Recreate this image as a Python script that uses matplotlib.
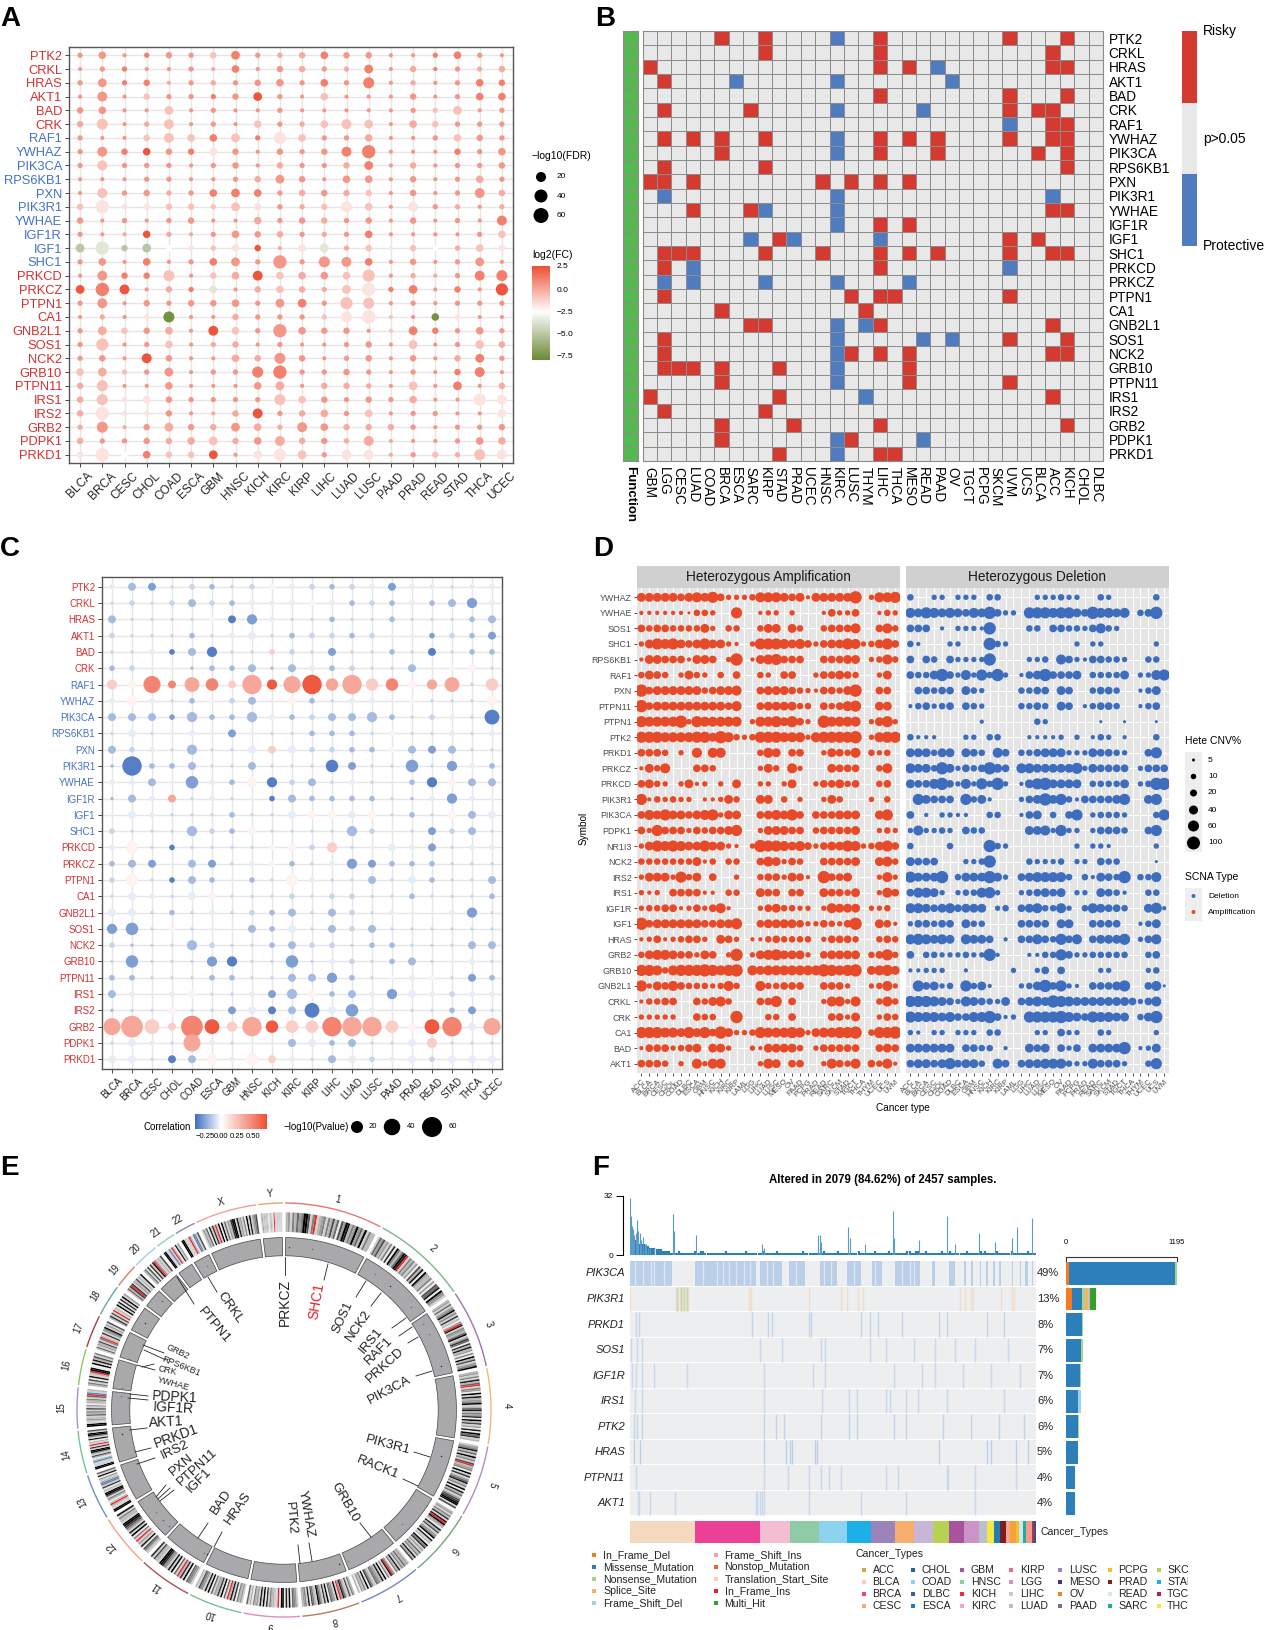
import numpy as np
import matplotlib
matplotlib.use("Agg")
import matplotlib.pyplot as plt
from matplotlib.colors import LinearSegmentedColormap, ListedColormap
from matplotlib.patches import Rectangle
from matplotlib.collections import PolyCollection
from matplotlib.transforms import ScaledTranslation

plt.rcParams['font.family'] = ['Liberation Sans', 'DejaVu Sans']

W, H = 1266, 1630

# genes / cancers
genes = ["PTK2","CRKL","HRAS","AKT1","BAD","CRK","RAF1","YWHAZ","PIK3CA","RPS6KB1","PXN","PIK3R1","YWHAE","IGF1R","IGF1",
         "SHC1","PRKCD","PRKCZ","PTPN1","CA1","GNB2L1","SOS1","NCK2","GRB10","PTPN11","IRS1","IRS2","GRB2","PDPK1","PRKD1"]
blue_genes = ["RAF1","YWHAZ","PIK3CA","RPS6KB1","PXN","PIK3R1","YWHAE","IGF1R","IGF1","SHC1"]
cancers = ["BLCA","BRCA","CESC","CHOL","COAD","ESCA","GBM","HNSC","KICH","KIRC","KIRP","LIHC","LUAD","LUSC","PAAD","PRAD","READ","STAD","THCA","UCEC"]

# panel A, one digit per cancer: size class of -log10(FDR), level of log2(FC)
a_fdr = ["24123 23522 34331 12421","12211 21413 32251 31223","25231 22234 24271 21243","16132 22352 14111 31244",
 "34115 12112 11111 22512","37126 12142 24651 43222","21136 44528 42241 12432","26343 34313 23691 11324",
 "26222 12313 22351 31223","11122 11235 31441 31242","16232 24542 33331 31263","39233 32542 23741 62212",
 "31212 31142 33231 31216","21142 12433 22241 11124","59353 22431 45231 32243","24141 24529 27641 31251",
 "16337 13464 44481 21267","59613 24134 32592 51318","26132 33425 52871 21222","12127 11322 22791 14211",
 "25334 16429 43311 53242","28124 12312 11231 51253","23163 11437 31231 31352","45225 12279 22321 21361",
 "37114 11145 13321 51513","37243 22227 43232 41186","39223 11362 34241 22115","27135 33542 64333 21223",
 "32233 45346 33261 11244","39343 35158 52661 23276"]
a_fc = ["77787 75876 68777 78877","77877 76877 67687 68766","77886 76777 78787 67788","77757 78797 75777 77788",
 "77775 77777 77777 75577","65765 77757 65557 65777","77755 58584 57767 77577","77897 84777 77887 77877",
 "75777 77776 77687 67777","77777 77767 77777 77767","75776 78887 67657 77776","54445 55547 65457 47676",
 "77777 77767 76777 77778","77696 67776 76787 77775","12113 45496 42654 53654","77787 78777 77787 77777",
 "77885 75695 67557 66788","98976 82765 66548 87879","77777 77777 87557 77777","76740 77677 75445 70477",
 "76576 79577 77775 88777","75775 76677 77777 57756","77797 77667 77777 77687","56577 77788 77777 77887",
 "65777 77776 76667 57876","65447 77775 57777 67744","64447 76697 66757 77774","67676 76766 77666 77777",
 "67776 65676 67666 77776","44385 59744 57446 75654"]
a_fc_levels = [-7.5,-5,-3.6,-2.5,-1.7,-0.7,-0.1,0.5,1.2,2.4]

# panel B
b_cancers = ["GBM","LGG","CESC","LUAD","COAD","BRCA","ESCA","SARC","KIRP","STAD","PRAD","UCEC","HNSC","KIRC","LUSC","THYM",
             "LIHC","THCA","MESO","READ","PAAD","OV","TGCT","PCPG","SKCM","UVM","UCS","BLCA","ACC","KICH","CHOL","DLBC"]
b_genes = genes
b_risky = [[5,8,16,25,29],[8,16,28],[0,16,18,28,29],[1],[16,25,29],[1,7,25,27,28],[28,29],[1,3,5,8,16,18,20,25,28,29],
           [5,16,20,27,29],[1,8,29],[0,1,3,12,14,16,18],[],[3,7,28,29],[16,18],[9,25,27],[1,2,3,8,12,16,18,20,25,28,29],
           [1,16],[],[1,14,16,17,25],[5,15],[7,8,16,28],[1,25,29],[1,14,16,18,28,29],[1,2,3,5,9,18],[5,18,25],[0,9,28],
           [1,8],[5,10,16,29],[5,14],[9,16,17]]
b_protective = [[13],[],[20],[6,13,21],[],[13,19],[25],[13],[13],[],[],[1,13,28],[8,13],[13],[7,10,16],[],[3,25],
                [1,3,8,13,18],[],[],[13,15],[13,19,21],[13],[13],[13],[15],[],[],[13,19],[13]]

# panel C
c_size = ["23312 21222 22223 22122","12123 22222 22222 22342","31111 23421 12112 11123","21112 12312 22221 12223",
 "11223 41122 13112 13122","22111 22313 22211 31231","43736 53847 85855 34615","24212 12313 21221 21114",
 "33324 22422 23342 12216","13112 13111 22212 11212","32214 11333 22222 33311","18223 11311 15311 51422",
 "22315 22442 31211 24333","13231 21123 22221 12421","13211 12113 33331 21333","21114 22311 11421 13231",
 "25121 11123 24113 23122","23313 31222 12432 22111","25123 21215 21131 32113","13213 31112 12211 21112",
 "33121 21223 13212 11241","45121 11323 13231 11111","21114 21123 22122 11133","15111 44115 12212 31121",
 "22111 22113 34211 22132","32123 11234 32324 32222","11131 13333 63521 11231","79639 64855 58885 36837",
 "13217 21113 32311 34111","33133 42532 13322 32333"]
c_corr = ["42133 23354 32341 44344","33332 32444 54232 42214","23333 50143 32332 33322","33332 34432 33234 41321",
 "33402 03363 31332 30322","23442 22222 42333 24553","65887 86797 97768 57736","45432 53245 23444 53335",
 "22212 22242 32222 33430","34344 41433 22235 33434","23432 33464 33225 21233","20222 33233 30133 13142",
 "44241 42503 23434 20522","22473 43402 22223 24144","44433 32334 55453 23524","33332 32533 33234 31323",
 "45303 33355 36344 41344","22142 13452 34112 22333","35302 24235 43323 42332","34434 53333 33333 23332",
 "44323 43322 32334 44413","11353 44224 32323 33333","32332 33322 33322 33322","31333 10331 34332 23443",
 "22333 22332 21235 45312","24445 33412 52241 44344","23353 31402 04144 33213","77668 96796 68776 59847",
 "34437 43442 42233 46333","44302 54564 32434 43444"]
c_corr_levels = [-0.36,-0.27,-0.19,-0.12,-0.05,0.05,0.2,0.36,0.5,0.68]

# panel D
d_genes = ["YWHAZ","YWHAE","SOS1","SHC1","RPS6KB1","RAF1","PXN","PTPN11","PTPN1","PTK2","PRKD1","PRKCZ","PRKCD","PIK3R1","PIK3CA",
           "PDPK1","NR1I3","NCK2","IRS2","IRS1","IGF1R","IGF1","HRAS","GRB2","GRB10","GNB2L1","CRKL","CRK","CA1","BAD","AKT1"]
d_cancers = ["ACC","BLCA","BRCA","CESC","CHOL","COAD","DLBC","ESCA","GBM","HNSC","KICH","KIRC","KIRP","LAML","LGG","LIHC","LUAD",
             "LUSC","MESO","OV","PAAD","PCPG","PRAD","READ","SARC","SKCM","STAD","TGCT","THCA","THYM","UCEC","UCS","UVM"]
d_amp = ["66666 56768 53334 77765 62666 66903 778","22222 21443 00800 23303 00025 33500 243","54554 44463 04400 46606 40045 55700 574",
 "36878 65686 63203 88876 75356 68734 685","26655 52665 03902 67855 50055 56603 474","46540 36430 40500 43055 00355 65400 360",
 "95666 66645 66700 56665 43255 46900 550","95666 66666 65700 56666 44054 57800 660","87777 93877 77703 77868 53097 77703 683",
 "88877 77886 97434 88877 73788 88903 788","55540 30707 70000 47605 50036 54704 340","26470 00554 00000 36407 30006 55500 470",
 "56430 36230 30600 33036 00355 64500 450","82434 33022 36400 66040 30036 40003 040","57686 65678 36600 56768 50555 66600 680",
 "53855 53545 56800 36665 50455 55600 343","36878 76686 63203 98876 75356 68734 685","44444 44624 04400 57635 40055 55600 674",
 "36663 84605 00300 45536 52095 56000 373","32305 55522 04400 65505 50065 54600 375","34455 23535 72000 35644 33037 66603 340",
 "95666 66655 66800 56666 53354 35900 652","23523 45530 65302 24544 44035 55400 454","46776 55365 03903 67866 63056 66604 584",
 "88747 88898 78907 67777 77798 78906 786","83657 54443 47400 74455 50055 53003 473","24455 00546 74000 55805 00037 73700 474",
 "33333 00544 00900 04405 00005 53600 354","88877 68685 96334 87778 73677 88904 889","25553 45606 63003 26666 40355 55500 565",
 "55540 30737 70000 37605 50037 54705 472"]
d_del = ["40033 03330 44000 03334 33004 30000 040","76876 76576 95330 88878 86597 76704 590","55502 03332 90000 44055 44357 43000 000",
 "42000 33000 94300 00000 03033 00000 030","50540 53333 90000 33407 53255 44300 440","54469 53738 49302 56955 56044 44603 378",
 "05545 50643 00004 45506 50045 54002 460","24534 50543 00004 45406 50245 54002 450","00000 00002 00000 04300 00001 00100 010",
 "42220 00330 44000 22223 03024 30200 040","66646 60654 07504 45666 33365 54300 580","76649 63545 96507 76666 68365 55503 555",
 "65579 53738 49302 68966 66044 44603 499","08655 50846 20003 56968 42555 56800 680","50203 32200 44002 56040 58034 44300 048",
 "37334 30544 00000 66738 33035 55400 580","40000 40000 94300 00000 03033 20000 030","65550 00334 90000 43334 03305 44000 010",
 "86669 04666 96305 67777 40426 54904 470","57763 03447 83003 45656 03306 54200 440","77656 75666 03405 67447 30476 55400 682",
 "35545 50644 00005 55506 60055 55002 460","78767 60766 50205 57548 57056 66803 570","50443 33433 92000 22448 53344 44400 450",
 "22333 00200 00030 03505 00003 30000 340","08563 40846 20003 46958 32055 56800 571","88876 53765 43605 67698 76666 66653 570",
 "87776 75577 95230 88889 76587 76604 690","32033 03330 44000 03305 33004 30000 030","66666 60554 40200 65605 35066 66902 360",
 "56656 85664 07505 66777 43375 55300 480"]

# panel E
chrom_names = ["1","2","3","4","5","6","7","8","9","10","11","12","13","14","15","16","17","18","19","20","21","22","X","Y"]
chrom_len = [249,243,198,191,181,171,159,146,141,135,135,133,115,107,102,90,81,78,59,63,48,51,155,59]
chrom_col = ["#E8786E","#7FB58A","#A36FB0","#F5B877","#B38CC8","#6FA67A","#6C86D0","#B77C5B","#E08CC0","#77C28F","#B05050","#F4A482",
             "#6D8FCB","#6FC5A0","#A98FD0","#8CC860","#A84040","#5FA9A0","#E07A70","#9FD0E8","#8FD0B0","#9A80C0","#F0A0A0","#E0A870"]
# cytoband shades per chromosome: 0 white .. 9 black, r red, b blue
chrom_bands = ["2314 2534 9961 4r12 3414 2625 0639 8243 9352 9142 2",
 "1536 2314 0709 4259 8r14 2413 0628 0932 2403 0658 09431",
 "2315 1349 2417 1203 r814 3259 1375 0728 2304 0926 1349",
 "2314 1825 r143 0918 2349 1258 2437 0926 1308 0957 12",
 "1348 2519 2416 r234 0917 1358 2419 0825 1367 9916",
 "2314 2718 r932 0826 1349 0812 0947 1315 2418 26",
 "1325 2418 2403 r814 0918 2345 1247 0914 2302",
 "2416 1258 3r19 1345 0917 1359 1246 0814 32",
 "1345 0918 0990 r112 2417 0918 1324 0215",
 "1324 0718 2r15 0917 2315 0918 1346 12",
 "1345 0917 2r15 0918 1347 9912 2617",
 "1246 0813 1r14 0918 1357 9912 2418",
 "9911 2r20 2416 9912 0714 b213 0815",
 "9911 1b20 2613 9917 1r12 0814 9916",
 "9911 3215 2416 1302 2415 rb12",
 "2416 0812 r990 0918 2614",
 "1513 2614 r217 1349 1316",
 "2716 1r12 0918 0719 13",
 "1527 r713 2612 18",
 "2416 0718 r312 16",
 "9911 b1r2 0813",
 "9911 1r20 b416",
 "1325 0817 2r19 0915 1327 9918 2314 0918 1346",
 "1312 1210 1210 r111 1111"]
gene_dots = [(0,.35,"#C05050"),(0,.05,"#555555"),(1,.2,"#5577AA"),(1,.45,"#333333"),(1,.85,"#5577AA"),(2,.1,"#5577AA"),(2,.3,"#5577AA"),(2,.85,"#333333"),
             (4,.3,"#333333"),(5,.7,"#5577AA"),(6,.95,"#C05050"),(7,.1,"#333333"),(10,.1,"#5577AA"),(10,.02,"#333333"),(11,.1,"#555588"),(11,.3,"#555588"),(11,.55,"#C05050"),
             (13,.8,"#333333"),(14,.9,"#5577AA"),(15,.05,"#C05050"),(16,.05,"#C05050"),(17,.5,"#333333"),(18,.7,"#555588"),(21,.6,"#5577AA")]

# panel F
f_title = "Altered in 2079 (84.62%) of 2457 samples."
f_genes = ["PIK3CA","PIK3R1","PRKD1","SOS1","IGF1R","IRS1","PTK2","HRAS","PTPN11","AKT1"]
f_pct = ["49%","13%","8%","7%","7%","6%","6%","5%","4%","4%"]
f_types = ["In_Frame_Del","Missense_Mutation","Nonsense_Mutation","Splice_Site","Frame_Shift_Del",
           "Frame_Shift_Ins","Nonstop_Mutation","Translation_Start_Site","In_Frame_Ins","Multi_Hit"]
f_type_col = ["#F47B20","#2C7FB8","#A6D48A","#F7B26A","#9FD3E3","#F6A0A8","#F26522","#FBD0B0","#ED1C24","#33A02C"]
# counts per gene in order of f_types
f_counts = [[28,1144,23,0,0,0,0,0,0,0],[65,102,37,28,14,14,0,0,0,65],[0,172,14,0,0,0,0,0,0,0],[0,158,28,0,0,0,0,0,0,0],[0,153,9,0,0,0,0,0,0,0],
            [0,134,0,0,23,0,0,0,0,0],[0,125,19,0,0,0,0,0,0,0],[0,130,0,0,0,0,0,0,0,0],[0,97,0,0,0,0,0,0,0,0],[0,97,0,0,0,0,0,0,0,0]]
# altered samples, in % along the sample axis
pik3ca_runs = [(0,10.3),(16.1,31),(32,37.4),(39.2,43.2),(46.7,51),(53.5,57),(59.6,62),(65.3,71.4),(74.5,75),(78.6,80),(82.3,82.7),
               (84,84.4),(86.2,86.5),(87.8,88.3),(89.4,90),(91,91.5),(94,94.4),(96,96.4),(97.2,98),(99,99.3)]
pik3ca_gaps = [1.2,3.1,5.2,5.9,8.4,18,21.5,23,24.4,26,28,29.6,33.8,35.1,41,47.9,49.6,55.2,60.3,67,68.9,70]
f_other = [[0,11.4,11.9,12.3,12.7,13,13.4,13.9,14.4,29.3,29.7,44,52,53.5,56.2,57.5,81.2,82.5,84,84.4,91.5,94,94.7],
           [1.5,2.3,30,34,35,44,44.5,57,59,61,67,76,78,88,92],
           [0.3,1.7,3,32,37.5,47,48,59,63,70,75,80,85,93],
           [0.5,1.5,3,6,14,33,45,48,65,72,75,82,89,96],
           [1.2,3,33,47.3,54,56,63,64,68,71,78,92],
           [1,1.8,3,33,36,38,47,54,56,65,68,77,84,91,97],
           [1,2.5,33,40,38.5,39.5,45.5,46,76,88,89,95,98],
           [1.5,33,39,44,47,49,52,63,66,78,78.3,85,95],
           [1.9,2.3,5,11,31,31.3,32,32.5,33,44,57,68,85]]
f_mid_col = ["#BBD0E8","#F3DCC8","#C3D5EA","#C8D9EC","#C8D9EC","#C8D9EC","#C3D5EA","#BBD0E8","#C8D9EC","#C8D9EC"]
f_annot_n = [16.1,15.8,7.4,7.3,6.8,5.9,5.8,4.8,4.7,3.9,3.8,3.5,2.1,1.6,1.5,1.4,1.2,1.3,0.9,0.8,0.9,1.3,0.6,0.5]
f_annot_col = ["#F5D9BF","#EC3F96","#F3BED1","#8FCBA4","#8DD3EE","#1BB0E8","#9B83BC","#F7AE6C","#C8B6D9","#B7D24F","#A9529E","#CC94C4",
               "#B9BFCF","#F5E642","#1F7FB4","#7D1F21","#F9A58B","#F2A33A","#F2C22E","#CDE7F0","#1FAE9B","#F59A8E","#A23B4D","#3F4B8F"]
f_top_base = ("99887 66655 44433 32222 11112 11111 11211 22111 11111 11211 11111 11211 11111 21111 11211 11111 11111 21111 11111 21111 "
              "11211 11111 11211 11111 21111 11211 11111 12211 22111 21111 11121 11211 11111 21111 11212 11111 21111 11211 11111 21111")
f_top_peak_x = [0.1,0.3,0.5,0.8,1,1.4,1.7,2,2.4,2.8,3.2,3.6,4,4.5,5,6,10.7,10.9,16.3,32.6,33,46.4,46.7,47.1,53.8,54.1,58,64.9,65,71.2,78.2,80,86,90,94,95.3,99]
f_top_peak_y = [31,21,16,14,11,12,19,13,12,8,10,6,6,4,4,3,22,13,11,6,4,11,11,7,15,9,6,24,9,8,21,6,12,7,9,15,20]
cancer_legend = ["ACC","BLCA","BRCA","CESC","CHOL","COAD","DLBC","ESCA","GBM","HNSC","KICH","KIRC","KIRP","LGG","LIHC","LUAD",
                 "LUSC","MESO","OV","PAAD","PCPG","PRAD","READ","SARC","SKCM","STAD","TGCT","THCA"]
cancer_legend_col = ["#C8B040","#F5C6D5","#EC3F96","#F7AE6C","#2F5F99","#8DD3EE","#3F5FA8","#1F7FB4","#A9529E","#8FCBA4","#ED2B3A","#F7A8B0",
                     "#F26B7E","#CC94C4","#C3C9DA","#C8B6D9","#9B83BC","#4B2D8F","#F58220","#6A6FA0","#F2C22E","#7D1F21","#CDE7F0","#1FAE9B",
                     "#B7D24F","#1BB0E8","#B3203C","#F5E642"]

RED, BLUE = "#D62F2F", "#4472C4"


def digits(rows):
    return np.array([[int(c) for c in r.replace(" ", "")] for r in rows])


def px_area(d):
    # diameter in pixels to scatter area
    return (np.asarray(d, dtype=float) * 0.72) ** 2


def add_ax(x0, y0, x1, y1):
    return fig.add_axes([x0 / W, 1 - y1 / H, (x1 - x0) / W, (y1 - y0) / H])


fig = plt.figure(figsize=(W / 100, H / 100), dpi=100)

ov = fig.add_axes([0, 0, 1, 1], zorder=5)
ov.set_xlim(0, W)
ov.set_ylim(H, 0)
ov.axis("off")
ov.patch.set_alpha(0)

for s, x, y in [("A", 0, 26), ("B", 595, 26), ("C", 0, 556), ("D", 593, 556), ("E", 0, 1175), ("F", 592, 1175)]:
    ov.text(x, y, s, fontsize=20, fontweight="bold", va="baseline", color="black")


def dot_panel(box, sizes, colors, diam_fn, cmap, vmin, vmax, fs, shift):
    ax = add_ax(*box)
    xx, yy = np.meshgrid(np.arange(20), np.arange(30))
    ax.set_xlim(-0.5, 19.5)
    ax.set_ylim(29.6, -0.6)
    ax.set_axisbelow(True)
    ax.grid(True, color="#E6E6E6", lw=1)
    ax.scatter(xx.ravel(), yy.ravel(), s=px_area(diam_fn(sizes.ravel())), c=colors.ravel(),
               cmap=cmap, vmin=vmin, vmax=vmax, linewidths=0, zorder=3)
    ax.set_xticks(range(20))
    ax.set_xticklabels(cancers, rotation=45, ha="center", va="top", fontsize=fs[1], color="#222222")
    off = ScaledTranslation(shift / 100, 0, fig.dpi_scale_trans)
    for lab in ax.get_xticklabels():
        lab.set_transform(lab.get_transform() + off)
    ax.set_yticks(range(30))
    ax.set_yticklabels(genes, fontsize=fs[0])
    for lab in ax.get_yticklabels():
        lab.set_color(BLUE if lab.get_text() in blue_genes else RED)
    ax.tick_params(length=3, width=0.7, color="#444444", pad=2)
    for sp in ax.spines.values():
        sp.set_color("#555555")
        sp.set_linewidth(1)
    return ax


# --- A
cmap_a = LinearSegmentedColormap.from_list("fc", [(0, "#6B8A35"), (5.4 / 10.5, "#FFFFFF"), (1, "#EE4F35")])
fc_vals = np.array(a_fc_levels)[digits(a_fc)]
dot_panel((69, 47, 513, 463), digits(a_fdr), fc_vals, lambda d: 3.0 + 1.15 * d, cmap_a, -7.9, 2.6, (9.3, 8.6), 5)

ov.text(532, 156, "\u2212log10(FDR)", fontsize=7.5, va="center")
ov.scatter([541, 541, 541], [177, 196, 215.5], s=px_area([10, 13, 15]), c="black", linewidths=0)
for y, t in zip([177, 196, 215.5], ["20", "40", "60"]):
    ov.text(557, y, t, fontsize=6, va="center")
ov.text(532, 255, "log2(FC)", fontsize=7.5, va="center")
cb = add_ax(532, 266, 550, 360)
cb.imshow(np.linspace(1, 0, 256)[:, None], cmap=cmap_a, aspect="auto")
cb.axis("off")
for y, t in zip([267, 290, 312, 334, 357], ["2.5", "0.0", "\u22122.5", "\u22125.0", "\u22127.5"]):
    ov.text(557, y, t, fontsize=6, va="center")

# --- B
bm = np.zeros((len(b_genes), len(b_cancers)))
for i, (r, p) in enumerate(zip(b_risky, b_protective)):
    bm[i, r] = 1
    bm[i, p] = -1
axb = add_ax(642.5, 31, 1103, 461)
axb.pcolormesh(bm, cmap=ListedColormap(["#4F7BBF", "#E8E8E8", "#D43A2F"]), vmin=-1, vmax=1, edgecolors="#8C8C8C", linewidth=0.55)
axb.set_ylim(len(b_genes), 0)
axb.set_xticks(np.arange(32) + 0.5)
axb.set_xticklabels(b_cancers, rotation=-90, fontsize=9.8, ha="center", va="top")
axb.set_yticks(np.arange(30) + 0.5)
axb.set_yticklabels(b_genes, fontsize=9.8)
axb.yaxis.tick_right()
axb.tick_params(length=0, pad=4)
for sp in axb.spines.values():
    sp.set_color("#8C8C8C")
axf = add_ax(623, 31, 638, 461)
axf.pcolormesh(np.ones((30, 1)), cmap=ListedColormap(["#56B851"]), edgecolors="#8C8C8C", linewidth=0.4)
axf.set_xticks([])
axf.set_yticks([])
for sp in axf.spines.values():
    sp.set_color("#8C8C8C")
ov.text(630, 466, "Function", rotation=-90, fontsize=9.5, fontweight="bold", ha="center", va="top")
ov.add_patch(Rectangle((1182, 31), 15, 72, color="#D43A2F", lw=0))
ov.add_patch(Rectangle((1182, 103), 15, 71, color="#E8E8E8", lw=0))
ov.add_patch(Rectangle((1182, 174), 15, 72, color="#4F7BBF", lw=0))
for y, t in [(31.5, "Risky"), (139, "p>0.05"), (246, "Protective")]:
    ov.text(1203, y, t, fontsize=10, va="center")

# --- C
cmap_c = LinearSegmentedColormap.from_list("corr", [(0, "#3F6DBF"), (0.363, "#FFFFFF"), (1, "#EE4F35")])
corr_vals = np.array(c_corr_levels)[digits(c_corr)]
dot_panel((102, 577, 502, 1069), digits(c_size), corr_vals, lambda d: 1.0 + 2.3 * d, cmap_c, -0.41, 0.72, (7, 7), 4)
ov.text(191, 1127, "Correlation", fontsize=7, ha="right", va="center")
cb2 = add_ax(195, 1114, 267, 1129)
cb2.imshow(np.linspace(0, 1, 256)[None, :], cmap=cmap_c, aspect="auto")
cb2.axis("off")
for x, t in zip([205, 221, 237, 253], ["\u22120.25", "0.00", "0.25", "0.50"]):
    ov.text(x, 1136, t, fontsize=5.5, ha="center", va="center")
ov.text(284, 1127, "\u2212log10(Pvalue)", fontsize=7, va="center")
ov.scatter([357, 392, 432], [1127, 1127, 1127], s=px_area([12, 16.5, 20]), c="black", linewidths=0)
for x, t in zip([373, 411, 453], ["20", "40", "60"]):
    ov.text(x, 1127, t, fontsize=5.5, ha="center", va="center")


# --- D
def d_panel(box, mat, col, left, title):
    ax = add_ax(*box)
    ax.set_facecolor("#E5E5E5")
    ax.set_axisbelow(True)
    ax.grid(True, color="white", lw=0.8)
    yy, xx = np.nonzero(mat)
    ax.scatter(xx, yy, s=px_area(2 + 1.15 * mat[yy, xx]), c=col, linewidths=0, zorder=3)
    ax.set_xlim(-0.6, 32.6)
    ax.set_ylim(30.6, -0.6)
    ax.set_xticks(range(33))
    ax.set_xticklabels(d_cancers, rotation=45, ha="right", rotation_mode="anchor", fontsize=5.6, color="#4D4D4D")
    ax.set_yticks(range(31))
    if left:
        ax.set_yticklabels(d_genes, fontsize=6.4, color="#4D4D4D")
    else:
        ax.tick_params(axis="y", length=0, labelleft=False)
    ax.tick_params(length=2, width=0.6, color="#333333", pad=1.5)
    if not left:
        ax.tick_params(axis="y", length=0)
    for sp in ax.spines.values():
        sp.set_visible(False)
    ov.add_patch(Rectangle((box[0], 566), box[2] - box[0], 22, color="#D0D0D0", lw=0))
    ov.text((box[0] + box[2]) / 2, 577.5, title, fontsize=9.8, ha="center", va="center", color="#1A1A1A")


d_panel((636.6, 588, 900, 1073), digits(d_amp), "#E64A28", True, "Heterozygous Amplification")
d_panel((905.6, 588, 1169, 1073), digits(d_del), "#3E6DBE", False, "Heterozygous Deletion")
ov.text(584, 828, "Symbol", fontsize=7.2, rotation=90, ha="center", va="center")
ov.text(903, 1108, "Cancer type", fontsize=7.2, ha="center", va="center")
ov.text(1185, 741, "Hete CNV%", fontsize=7.5, va="center")
leg_y = [760, 776.5, 793, 810, 826, 843]
ov.add_patch(Rectangle((1185, 752), 17, 100, color="#EEEEEE", lw=0))
ov.scatter([1193.5] * 6, leg_y, s=px_area([3, 5.5, 7, 9, 11, 13]), c="black", linewidths=0)
for y, t in zip(leg_y, ["5", "10", "20", "40", "60", "100"]):
    ov.text(1208, y, t, fontsize=6, va="center")
ov.text(1185, 877.5, "SCNA Type", fontsize=7.5, va="center")
ov.add_patch(Rectangle((1185, 888), 17, 33, color="#EEEEEE", lw=0))
ov.scatter([1193.5, 1193.5], [896, 912], s=px_area([4, 4]), c=["#3E6DBE", "#E64A28"], linewidths=0)
ov.text(1208, 896, "Deletion", fontsize=6, va="center")
ov.text(1208, 912, "Amplification", fontsize=6, va="center")

# --- E
R = 207
CX, CY = 284, 1410
axe = add_ax(CX - R * 1.2, CY - R * 1.2, CX + R * 1.2, CY + R * 1.2)
axe.set_xlim(-1.2, 1.2)
axe.set_ylim(-1.2, 1.2)
axe.axis("off")
gap = 1.0
span = (360 - gap * len(chrom_len)) / sum(chrom_len)


def ring(a0, a1, r0, r1):
    t = np.radians(np.linspace(a0, a1, max(2, int(abs(a1 - a0)) + 2)))
    return np.r_[np.c_[r1 * np.cos(t), r1 * np.sin(t)], np.c_[r0 * np.cos(t[::-1]), r0 * np.sin(t[::-1])]]


shade = {str(i): str(round(0.92 - 0.92 * i / 9, 3)) for i in range(10)}
shade["r"] = "#EE2A2A"
shade["b"] = "#4F86C6"
start = 90 - gap / 2
starts = []
band_polys, band_cols, track_polys = [], [], []
for i, n in enumerate(chrom_len):
    a0 = start
    a1 = a0 - n * span
    starts.append((a0, a1))
    bands = chrom_bands[i].replace(" ", "")
    edges = np.linspace(a0, a1, len(bands) + 1)
    for j, c in enumerate(bands):
        band_polys.append(ring(edges[j], edges[j + 1], 0.86, 0.955))
        band_cols.append(shade[c])
    track_polys.append(ring(a0, a1, 0.745, 0.833))
    t = np.radians(np.linspace(a0, a1, 40))
    axe.plot(np.cos(t), np.sin(t), color=chrom_col[i], lw=1)
    mid = np.radians((a0 + a1) / 2)
    axe.text(1.075 * np.cos(mid), 1.045 * np.sin(mid), chrom_names[i], fontsize=7, rotation=(a0 + a1) / 2 - 90,
             ha="center", va="center", rotation_mode="anchor", color="#222222")
    start = a1 - gap
axe.add_collection(PolyCollection(band_polys, facecolors=band_cols, edgecolors="none"))
axe.add_collection(PolyCollection(track_polys, facecolors="#A9A9AB", edgecolors="#444444", linewidths=0.5))
for c, f, col in gene_dots:
    a0, a1 = starts[c]
    th = np.radians(a0 + f * (a1 - a0))
    axe.scatter(0.79 * np.cos(th), 0.79 * np.sin(th), s=1.2, c=col, linewidths=0)

gene_labels = [("PRKCZ",285,1302,90,10),("SHC1",317,1301,80,10),("SOS1",343,1318,65,9),("NCK2",359,1326,55,9.5),("IRS1",371,1341,50,9.5),
 ("RAF1",379,1351,45,9.5),("PRKCD",385,1365,42,9.5),("PIK3CA",389,1390,28,9.5),("PIK3R1",388,1445,-15,9.5),("RACK1",378,1468,-22,9.5),
 ("GRB10",345,1502,-60,9.5),("YWHAZ",306,1514,-80,9.5),("PTK2",290,1518,-85,9.5),("HRAS",238,1508,55,9.5),("BAD",221,1502,55,9.5),
 ("IGF1",199,1480,45,9.5),("PTPN11",197,1467,42,9.5),("PXN",181,1465,40,9.5),("IRS2",175,1450,25,9.5),("PRKD1",176,1436,20,10),
 ("AKT1",166,1422,3,10),("IGF1R",173,1408,-3,10),("PDPK1",175,1397,-3,10),("YWHAE",173,1384,-15,6.5),("CRK",167,1371,-12,6.5),
 ("RPS6KB1",181,1366,-22,6.5),("GRB2",178,1352,-25,6.5),("PTPN1",214,1325,-50,9.5),("CRKL",230,1308,-55,9.5)]
for name, x, y, rot, fs in gene_labels:
    ov.text(x, y, name, fontsize=fs, rotation=rot, ha="center", va="center", rotation_mode="anchor",
            color="#EE1C25" if name == "SHC1" else "#222222")
connectors = [(285,1257,285,1275),(328,1264,324,1280),(366,1281,356,1297),(381,1293,371,1306),(406,1318,392,1328),(412,1327,399,1336),
 (418,1337,408,1343),(432,1371,416,1376),(430,1457,414,1452),(418,1486,403,1479),(371,1537,360,1523),(312,1561,309,1543),(300,1563,298,1545),
 (214,1547,222,1532),(198,1538,208,1523),(160,1501,174,1490),(158,1499,170,1488),(156,1497,166,1485),(137,1464,155,1458),(135,1452,151,1448),
 (130,1430,147,1428),(128,1398,148,1400),(130,1394,148,1396),(137,1365,155,1370),(142,1367,154,1364),(144,1350,166,1360),(143,1345,164,1353),
 (177,1277,194,1304),(208,1277,217,1292)]
for x0, y0, x1, y1 in connectors:
    ov.plot([x0, x1], [y0, y1], color="#222222", lw=0.6)

# --- F
ov.text(883, 1180, f_title, fontsize=8.3, fontweight="bold", ha="center", va="center")
axt = add_ax(630, 1196, 1036, 1255)
base = [int(c) for c in f_top_base.replace(" ", "")]
axt.vlines(np.linspace(0, 100, len(base)), 0, base, color="#2E7FB4", lw=1.6)
axt.vlines(f_top_peak_x, 0, f_top_peak_y, color="#5A9CC8", lw=0.8)
axt.set_xlim(0, 100)
axt.set_ylim(0, 32)
axt.set_xticks([])
axt.set_yticks([0, 32])
axt.tick_params(axis="y", labelsize=6, length=5, width=0.7, pad=2)
for sp in ["top", "right", "bottom"]:
    axt.spines[sp].set_visible(False)
axt.spines["left"].set_position(("outward", 5))

ROW = 25.53
axm = add_ax(630, 1260.7, 1036, 1516)
axm.set_xlim(0, 100)
axm.set_ylim(10, 0)
axm.axis("off")
axm.barh(np.arange(10) + 0.5, [100] * 10, height=0.96, color="#EDEEF0", lw=0)
axm.broken_barh([(a, b - a) for a, b in pik3ca_runs], (0.02, 0.96), color=f_mid_col[0], lw=0)
axm.vlines(pik3ca_gaps, 0.02, 0.98, color="#DDE6F2", lw=0.9)
for i, xs in enumerate(f_other):
    axm.vlines(xs, i + 1.02, i + 1.98, color=f_mid_col[i + 1], lw=1)
axm.vlines([11.6, 12.5, 13.2, 14], 1.02, 1.98, color="#BFD9B0", lw=1)
for i, (g, p) in enumerate(zip(f_genes, f_pct)):
    ov.text(625, 1260.7 + ROW * (i + 0.5), g, fontsize=8, style="italic", ha="right", va="center", color="#222222")
    ov.text(1037, 1260.7 + ROW * (i + 0.5), p, fontsize=8, va="center", color="#222222")

axr = add_ax(1066, 1260.7, 1177, 1516)
axr.set_xlim(0, 1195)
axr.set_ylim(10, 0)
axr.axis("off")
left = np.zeros(10)
counts = np.array(f_counts, dtype=float)
for j, col in enumerate(f_type_col):
    axr.barh(np.arange(10) + 0.5, counts[:, j], left=left, height=0.9, color=col, lw=0)
    left += counts[:, j]
ov.plot([1066, 1066, 1177, 1177], [1261, 1257, 1257, 1261], color="#333333", lw=0.8)
ov.text(1066, 1243, "0", fontsize=5.5, ha="center", va="center")
ov.text(1177, 1243, "1195", fontsize=5.5, ha="center", va="center")

axa = add_ax(630, 1521, 1036, 1542.7)
axa.set_xlim(0, sum(f_annot_n))
axa.set_ylim(0, 1)
axa.axis("off")
axa.barh([0.5] * len(f_annot_n), f_annot_n, left=np.r_[0, np.cumsum(f_annot_n)[:-1]], height=1, color=f_annot_col, lw=0)
ov.text(1040.5, 1532, "Cancer_Types", fontsize=7.6, va="center", color="#222222")

for i, (t, col) in enumerate(zip(f_types, f_type_col)):
    col_i, row_i = divmod(i, 5)
    y = 1555 + row_i * 12
    ov.scatter(594 + col_i * 121.5, y, s=px_area(4.5), c=col, marker="s", linewidths=0)
    ov.text(603 + col_i * 121.5, y, t, fontsize=7.6, va="center", color="#222222")
ov.text(855, 1554.3, "Cancer_Types", fontsize=7.6, va="center", color="#222222")
for i, (t, col) in enumerate(zip(cancer_legend, cancer_legend_col)):
    col_i, row_i = divmod(i, 4)
    y = 1570.3 + row_i * 12
    x = 864 + col_i * 49.1
    ov.scatter(x, y, s=px_area(4.5), c=col, marker="s", linewidths=0)
    ov.text(x + 8.6, y, t, fontsize=7.6, va="center", color="#222222", zorder=2)
ov.add_patch(Rectangle((1188, 1560), 70, 56, color="white", lw=0, zorder=3))

fig.savefig("out.png", dpi=100)
